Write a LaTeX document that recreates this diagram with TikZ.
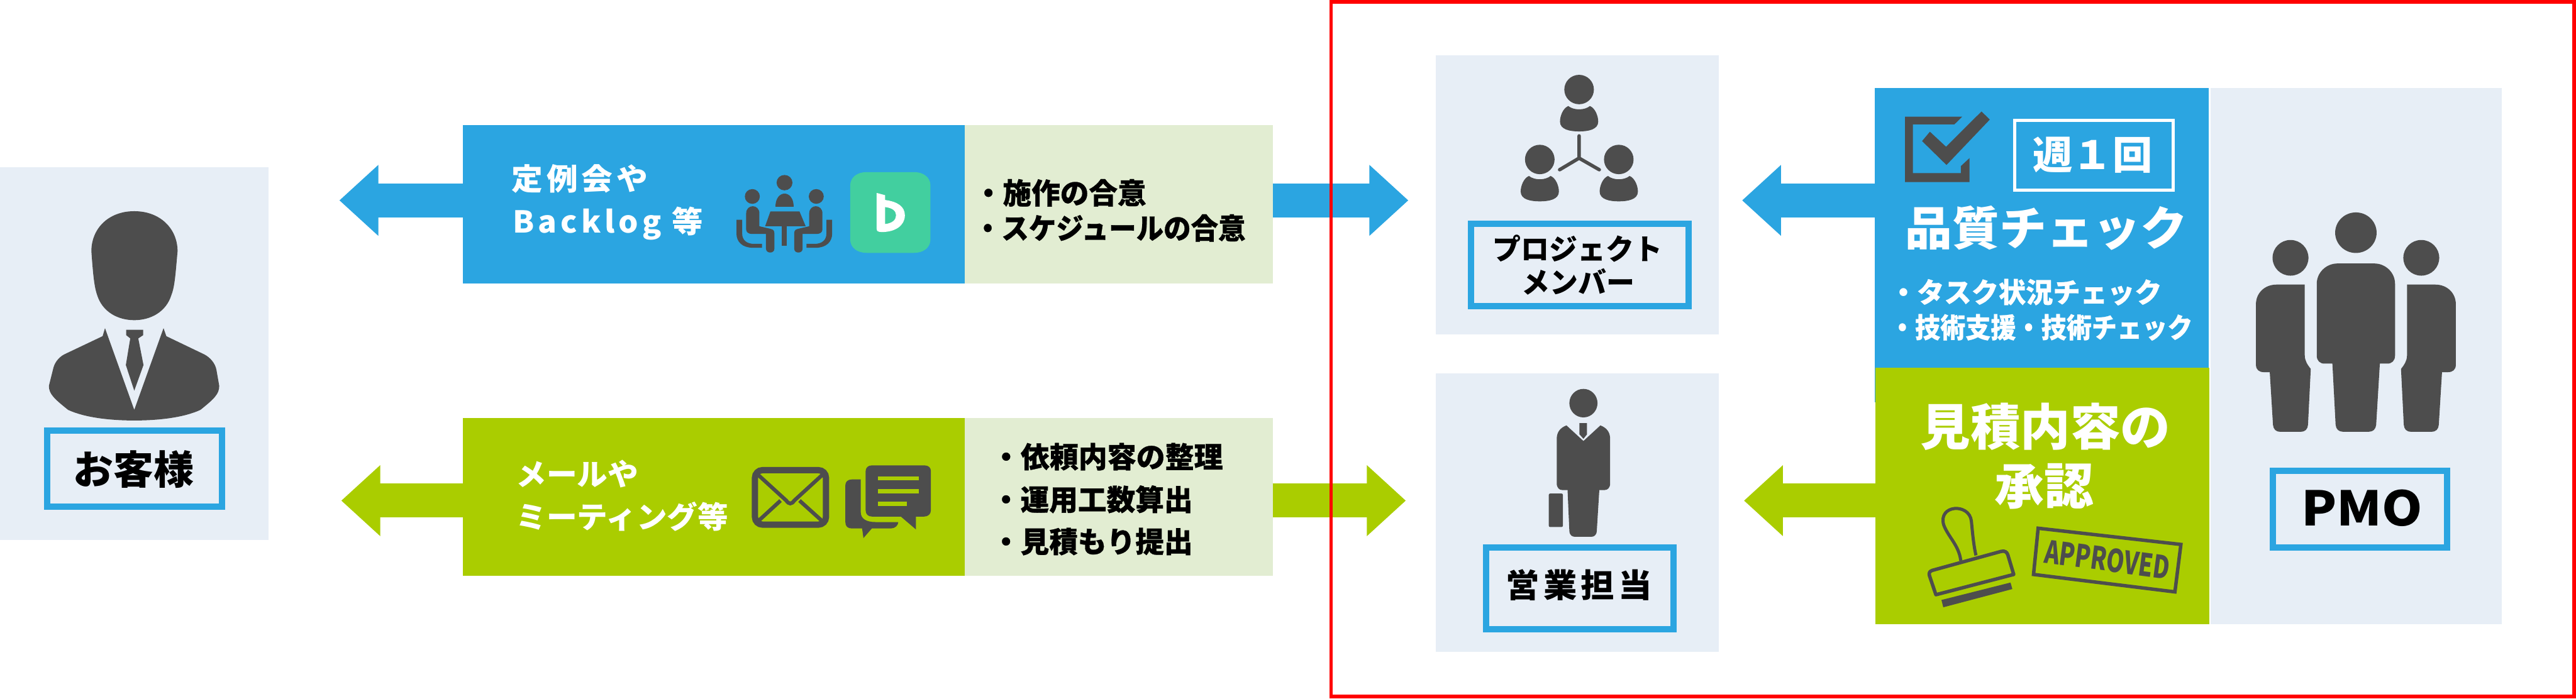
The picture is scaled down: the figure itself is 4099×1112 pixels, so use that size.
\documentclass[tikz,border=0pt]{standalone}
\usepackage{graphicx}
\usepackage{fontspec}
\setmainfont{Noto Sans CJK JP}
\usetikzlibrary{arrows.meta}
\definecolor{cblue}{HTML}{2BA5E1}
\definecolor{cgreen}{HTML}{AACD00}
\definecolor{cpanel}{HTML}{E7EEF6}
\definecolor{clight}{HTML}{E2EDD2}
\definecolor{cdark}{HTML}{4D4D4D}
\definecolor{cback}{HTML}{42CF9F}
\tikzset{
  box/.style={anchor=north west,inner sep=0pt,outer sep=0pt},
  lbl/.style={anchor=north west,inner sep=0pt,outer sep=0pt,draw=cblue,line width=10pt},
  txt/.style={anchor=base west,inner sep=0pt,outer sep=0pt,font=\bfseries},
  zA/.style={shift={(0,150)},x=0.63776pt,y=-0.5102pt},
  zB/.style={shift={(1000,150)},x=0.70153pt,y=-0.5102pt},
  zC/.style={shift={(2100,0)},x=0.57398pt,y=-0.70918pt},
  zD/.style={shift={(2950,100)},x=0.73278pt,y=-0.64541pt},
  arrL/.style={line width=54pt,-{Triangle[length=62pt,width=109pt]}},
  icon/.style={fill=cdark,draw=none},
  iconline/.style={draw=cdark,fill=none}
}
% name, left, centre y, font size, width, text, colour
\newcommand\Tx[7]{\node[txt,text=#7] (#1) at (#2,{#3+0.38*#4}) {\fontsize{#4pt}{#4pt}\selectfont\resizebox{#5pt}{\height}{#6}};}
\newcommand\Wide[1]{{\addfontfeatures{LetterSpace=12}#1}}
\newcommand\Heavy[1]{{\addfontfeatures{FakeBold=0.6}#1}}
\newcommand\SeatL{%
  \fill[icon] (281,319) ellipse [x radius=17,y radius=23];
  \fill[icon] (267,372) .. controls (267,342) and (297,342) .. (297,372) -- (297,412) -- (322,420) .. controls (330,422) and (331,428) .. (331,435) -- (331,482) .. controls (331,498) and (312,498) .. (312,482) -- (312,436) -- (280,436) .. controls (272,436) and (267,430) .. (267,422) -- cycle;
  \fill[icon] (245,392) -- (258,392) -- (258,435) .. controls (258,455) and (268,467) .. (285,467) -- (303,467) -- (303,479) -- (282,479) .. controls (258,479) and (245,460) .. (245,435) -- cycle;}
\newcommand\PersonS{%
  \fill[icon] (0,0) ellipse [x radius=41,y radius=33];
  \fill[icon] (-30,37) .. controls (-15,47) and (15,47) .. (30,37) .. controls (45,42) and (53,60) .. (53,72) .. controls (53,90) and (25,94) .. (0,94) .. controls (-25,94) and (-53,90) .. (-53,72) .. controls (-53,60) and (-45,42) .. (-30,37) -- cycle;}
\newcommand\SidePMO{%
  \fill[icon] (948,481) ellipse [x radius=39,y radius=44];
  \fill[icon] (979,547) -- (918,547) .. controls (890,547) and (873,570) .. (873,595) -- (873,745) .. controls (873,757) and (880,763) .. (890,763) -- (903,763) -- (910,893) .. controls (911,904) and (916,910) .. (926,910) -- (970,910) .. controls (980,910) and (985,904) .. (986,893) -- (992,755) .. controls (985,745) and (979,735) .. (979,722) -- cycle;}
\begin{document}
\begin{tikzpicture}[x=1pt,y=-1pt]
\useasboundingbox (0,0) rectangle (4099,1112);
\fill[white] (0,0) rectangle (4099,1112);

% panels
\node[box,fill=cpanel,minimum width=427pt,minimum height=594pt] (custpanel) at (0,266) {};
\node[box,fill=cpanel,minimum width=450pt,minimum height=444pt] (memberpanel) at (2285,88) {};
\node[box,fill=cpanel,minimum width=450pt,minimum height=444pt] (salespanel) at (2285,594) {};
\node[box,fill=cpanel,minimum width=463pt,minimum height=854pt] (pmopanel) at (3518,140) {};

% middle boxes
\node[box,fill=cblue,minimum width=798pt,minimum height=252pt] (bluebox) at (737,199) {};
\node[box,fill=clight,minimum width=490pt,minimum height=252pt] (bluelight) at (1535,199) {};
\node[box,fill=cgreen,minimum width=798pt,minimum height=252pt] (greenbox) at (737,665) {};
\node[box,fill=clight,minimum width=490pt,minimum height=252pt] (greenlight) at (1535,665) {};

% right boxes
\node[box,fill=cblue,minimum width=532pt,minimum height=500pt] (qualitybox) at (2983,140) {};
\node[box,fill=cgreen,minimum width=532pt,minimum height=409pt] (approvebox) at (2984,585) {};

% connectors
\coordinate (tipCustB) at (540,319);
\coordinate (tipCustG) at (543,797);
\coordinate (tipMemberL) at (2241,319);
\coordinate (tipSalesL) at (2237,797);
\coordinate (tipMemberR) at (2772,319);
\coordinate (tipSalesR) at (2775,797);
\draw[arrL,draw=cblue,fill=cblue] (bluebox.west |- tipCustB) -- (tipCustB);
\draw[arrL,draw=cgreen,fill=cgreen] (greenbox.west |- tipCustG) -- (tipCustG);
\draw[arrL,draw=cblue,fill=cblue] (bluelight.east |- tipMemberL) -- (tipMemberL);
\draw[arrL,draw=cgreen,fill=cgreen] (greenlight.east |- tipSalesL) -- (tipSalesL);
\draw[arrL,draw=cblue,fill=cblue] (qualitybox.west |- tipMemberR) -- (tipMemberR);
\draw[arrL,draw=cgreen,fill=cgreen] (approvebox.west |- tipSalesR) -- (tipSalesR);

% labels
\node[lbl,minimum width=278pt,minimum height=122pt] (custlabel) at (75,685) {};
\node[lbl,minimum width=346pt,minimum height=131pt] (memberlabel) at (2341,356) {};
\node[lbl,minimum width=298pt,minimum height=130pt] (saleslabel) at (2365,872) {};
\node[lbl,minimum width=277pt,minimum height=122pt] (pmolabel) at (3616.5,750) {};
\node[box,draw=white,line width=5pt,minimum width=252pt,minimum height=111pt] (weeklabel) at (3205.5,191.5) {};

% texts
\Tx{tcust}{117}{747}{63}{192}{お客様}{black}
\Tx{tmember1}{2375}{396}{46}{270}{プロジェクト}{black}
\Tx{tmember2}{2421}{449}{46}{180}{メンバー}{black}
\Tx{tsales}{2396}{931}{52}{233}{\Wide{営業担当}}{black}
\Tx{tpmo}{3662}{808}{76}{193}{PMO}{black}
\Tx{tweek}{3235}{246}{62}{190}{週１回}{white}
\Tx{tquality}{3032}{363}{74}{449}{品質チェック}{white}
\Tx{tq1}{3007}{465}{44}{433}{\Heavy{・タスク状況チェック}}{white}
\Tx{tq2}{3007}{521}{44}{482}{\Heavy{・技術支援・技術チェック}}{white}
\Tx{tap1}{3056}{679}{79}{398}{見積内容の}{white}
\Tx{tap2}{3174}{773}{79}{158}{承認}{white}
\Tx{tb1}{814}{284}{48}{217}{\Wide{定例会や}}{white}
\Tx{tb2}{816}{353}{48}{303}{\Wide{Backlog 等}}{white}
\Tx{tg1}{821}{755}{48}{195}{メールや}{white}
\Tx{tg2}{821}{823}{48}{338}{ミーティング等}{white}
\Tx{tl1}{1550}{307}{46}{274}{\Heavy{・施作の合意}}{black}
\Tx{tl2}{1550}{363}{46}{432}{\Heavy{・スケジュールの合意}}{black}
\Tx{tl3}{1578}{727}{46}{368}{\Heavy{・依頼内容の整理}}{black}
\Tx{tl4}{1578}{795}{46}{320}{\Heavy{・運用工数算出}}{black}
\Tx{tl5}{1578}{862}{46}{320}{\Heavy{・見積もり提出}}{black}

% customer icon
\begin{scope}[zA]
\fill[icon] (335,365) .. controls (270,365) and (228,420) .. (228,490) .. controls (232,560) and (235,600) .. (242,625) .. controls (255,680) and (295,705) .. (335,705) .. controls (375,705) and (415,680) .. (428,625) .. controls (436,600) and (438,560) .. (443,490) .. controls (443,420) and (400,365) .. (335,365) -- cycle;
\fill[icon] (262,730) -- (256,755) -- (160,812) .. controls (145,822) and (135,840) .. (132,860) -- (122,910) .. controls (122,935) and (135,950) .. (170,985) .. controls (210,1008) and (270,1018) .. (335,1018) .. controls (400,1018) and (460,1008) .. (500,985) .. controls (535,950) and (547,935) .. (547,910) -- (540,860) .. controls (537,840) and (525,822) .. (510,812) -- (415,755) -- (408,730) -- (335,985) -- cycle;
\fill[icon] (315,735) -- (357,735) -- (357,752) -- (345,762) -- (358,845) -- (335,925) -- (314,845) -- (325,762) -- (315,752) -- cycle;
\end{scope}

% meeting and Backlog icons, mail and chat icons
\begin{scope}[zB]
\fill[icon] (354,276) ellipse [x radius=18,y radius=24];
\fill[icon] (334,352) .. controls (334,296) and (375,296) .. (375,352) -- cycle;
\fill[icon] (322,366) -- (388,366) -- (402,412) -- (310,412) -- cycle;
\fill[icon] (347,412) rectangle (359,472);
\SeatL
\begin{scope}[shift={(707,0)},xscale=-1]\SeatL\end{scope}
\fill[cback] (503,285) .. controls (503,258) and (520,243) .. (540,243) -- (648,243) .. controls (668,243) and (685,258) .. (685,285) -- (685,453) .. controls (685,480) and (668,495) .. (648,495) -- (540,495) .. controls (520,495) and (503,480) .. (503,453) -- cycle;
\fill[white,even odd rule] (563,308) -- (582,315) -- (582,330) .. controls (610,335) and (627,350) .. (627,378) .. controls (627,410) and (605,430) .. (575,430) .. controls (567,430) and (563,428) .. (563,420) -- cycle (582,352) .. controls (600,355) and (607,365) .. (607,378) .. controls (607,392) and (598,403) .. (582,405) -- cycle;
\draw[iconline,line width=10pt,rounded corners=12pt] (287,1173) rectangle (448,1343);
\draw[iconline,line width=6pt] (292,1185) -- (358,1268) .. controls (364,1280) and (370,1280) .. (376,1268) -- (442,1185);
\draw[iconline,line width=6pt] (292,1335) -- (345,1268);
\draw[iconline,line width=6pt] (442,1335) -- (388,1268);
\fill[icon] (527,1202) -- (507,1202) .. controls (497,1202) and (492,1210) .. (492,1220) -- (492,1335) .. controls (492,1348) and (497,1355) .. (507,1355) -- (530,1355) -- (533,1385) -- (552,1355) -- (595,1355) .. controls (605,1355) and (612,1345) .. (612,1335) -- (560,1335) .. controls (540,1335) and (527,1325) .. (527,1305) -- cycle;
\fill[icon] (553,1158) -- (671,1158) .. controls (681,1158) and (686,1166) .. (686,1176) -- (686,1298) .. controls (686,1310) and (680,1318) .. (670,1318) -- (652,1318) -- (652,1358) -- (618,1318) -- (553,1318) .. controls (543,1318) and (538,1310) .. (538,1298) -- (538,1176) .. controls (538,1166) and (543,1158) .. (553,1158) -- cycle;
\fill[cgreen] (566,1193) rectangle (658,1205);
\fill[cgreen] (566,1232) rectangle (658,1245);
\fill[cgreen] (566,1271) rectangle (631,1284);
\end{scope}

% member and sales icons
\begin{scope}[zC]
\begin{scope}[shift={(719,201)}]\PersonS\end{scope}
\begin{scope}[shift={(610,358)}]\PersonS\end{scope}
\begin{scope}[shift={(829,358)}]\PersonS\end{scope}
\draw[iconline,line width=5.5pt,line cap=round,line join=round] (719,305) -- (719,355) -- (665,381) (719,355) -- (775,381);
\fill[icon] (731,905) ellipse [x radius=39,y radius=32];
\fill[icon] (720,950) -- (741,950) -- (741,975) -- (731,985) -- (720,975) -- cycle;
\fill[icon] (684,955) -- (731,990) -- (778,955) .. controls (795,960) and (805,970) .. (805,985) -- (805,1085) .. controls (805,1095) and (798,1100) .. (790,1100) -- (775,1100) -- (768,1192) .. controls (767,1202) and (760,1205) .. (752,1205) -- (708,1205) .. controls (700,1205) and (693,1202) .. (692,1192) -- (687,1100) -- (672,1100) .. controls (664,1100) and (657,1095) .. (657,1085) -- (657,985) .. controls (657,970) and (667,960) .. (684,955) -- cycle;
\fill[icon,rounded corners=2pt] (635,1108) rectangle (674,1183);
\end{scope}

% quality, approval and PMO icons
\begin{scope}[zD]
\fill[icon] (111,133) -- (235,133) -- (218,152) -- (128,152) -- (128,272) -- (232,272) -- (232,255) -- (251,235) -- (251,294) -- (111,294) -- cycle;
\fill[icon] (148,193) -- (165,170) -- (200,207) -- (277,120) -- (295,140) -- (201,252) -- cycle;
\draw[iconline,line width=5pt,line join=round] (232,1228) .. controls (228,1190) and (205,1170) .. (195,1140) .. controls (182,1090) and (250,1085) .. (255,1130) .. controls (258,1165) and (260,1190) .. (265,1215);
\draw[iconline,line width=5.5pt,line join=round] (170,1252) -- (320,1205) .. controls (328,1203) and (332,1207) .. (334,1213) -- (347,1262) -- (178,1312) -- (164,1265) .. controls (162,1258) and (165,1254) .. (170,1252) -- cycle;
\fill[icon] (190,1325) -- (340,1282) -- (344,1298) -- (194,1343) -- cycle;
\draw[iconline,line width=5.5pt] (400,1148) -- (710,1188) -- (697,1305) -- (390,1262) -- cycle;
\node[inner sep=0pt,text=cdark,rotate=-7.5,font=\bfseries\fontsize{50pt}{50pt}\selectfont] (approved) at (550,1225) {\resizebox{200pt}{\height}{APPROVED}};
\SidePMO
\begin{scope}[shift={(2180,0)},xscale=-1]\SidePMO\end{scope}
\fill[icon] (1090,419) ellipse [x radius=45,y radius=50];
\fill[icon] (1050,495) -- (1130,495) .. controls (1155,495) and (1175,518) .. (1175,545) -- (1175,722) .. controls (1175,735) and (1168,742) .. (1158,742) -- (1142,742) -- (1134,893) .. controls (1133,904) and (1127,910) .. (1118,910) -- (1062,910) .. controls (1053,910) and (1047,904) .. (1046,893) -- (1039,742) -- (1022,742) .. controls (1012,742) and (1005,735) .. (1005,722) -- (1005,545) .. controls (1005,518) and (1025,495) .. (1050,495) -- cycle;
\end{scope}

% red frame
\draw[red,line width=5.5pt] (2118,3) rectangle (4096,1109);
\end{tikzpicture}
\end{document}
